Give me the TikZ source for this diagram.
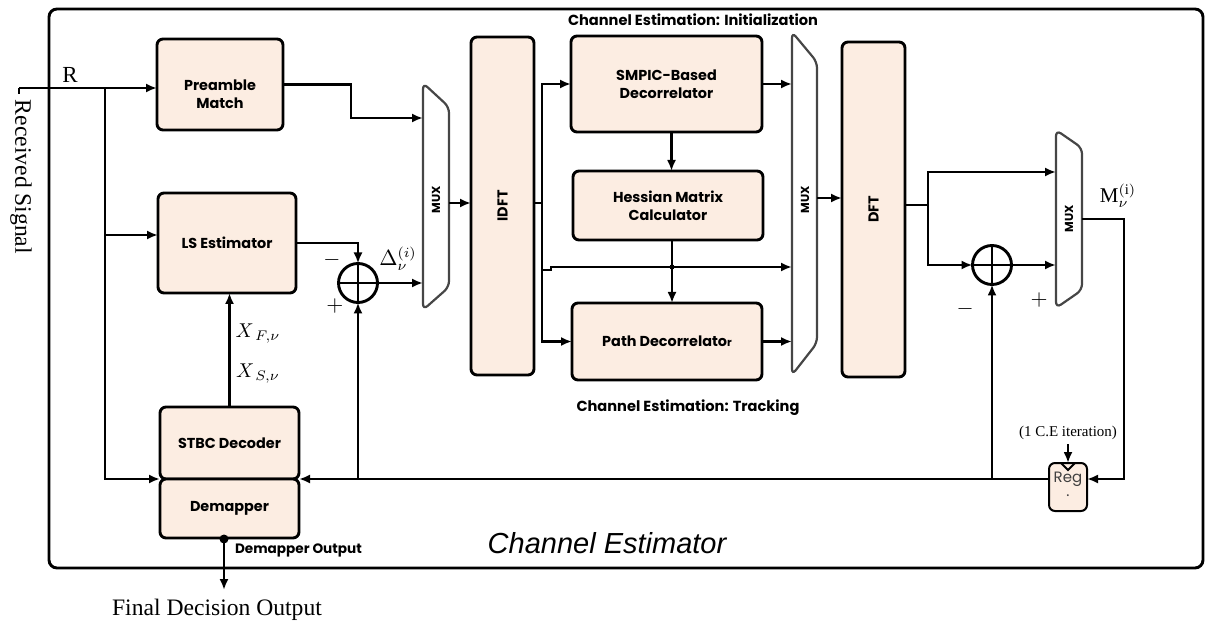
\documentclass[tikz,border=0pt]{standalone}
\usepackage{fontspec}
\setmainfont{Liberation Serif}
\setsansfont{Poppins}
\newfontfamily\arialfont{Liberation Sans}
\usetikzlibrary{arrows.meta,calc}
\definecolor{peach}{RGB}{252,237,226}
\definecolor{muxgray}{RGB}{70,70,70}

\begin{document}
\begin{tikzpicture}[x=0.5pt,y=-0.5pt,
  wire/.style={line width=1.45pt},
  arr/.style={wire,-{Latex[length=5.5pt,width=4.5pt]}},
  block/.style={draw,line width=1.45pt,fill=peach,rounded corners=3pt,
    inner sep=0pt,outer sep=0pt,align=center,
    font=\sffamily\bfseries\fontsize{7.2}{9}\selectfont},
  btext/.style={align=center,font=\sffamily\bfseries\fontsize{7.2}{9}\selectfont},
  mux/.style={draw=muxgray,line width=1.1pt,rounded corners=3pt},
  muxlabel/.style={font=\sffamily\bfseries\fontsize{5.8}{6}\selectfont,rotate=90},
  sum/.style={circle,draw,line width=1.45pt,minimum size=19.5pt,inner sep=0pt,outer sep=0pt,
    path picture={\draw[line width=1.45pt]
      (path picture bounding box.north) -- (path picture bounding box.south)
      (path picture bounding box.west) -- (path picture bounding box.east);}},
  serif/.style={font=\fontsize{11.8}{13}\selectfont},
  sign/.style={font=\fontsize{11}{12}\selectfont},
  caption/.style={font=\sffamily\bfseries\fontsize{7.3}{8}\selectfont},
  dot/.style={circle,fill,inner sep=0pt,minimum size=#1}
]
\useasboundingbox (0,0) rectangle (1208,630);

% outer frame of the estimator
\draw[line width=1.45pt,rounded corners=4pt] (49,9) rectangle (1203,568);

% processing blocks
\node[block,minimum width=63pt,minimum height=45.5pt] (pre) at (220,84.5) {};
\node[btext] (pretext) at (220,94) {Preamble\\Match};
\node[block,minimum width=69pt,minimum height=50pt] (ls) at (227,243) {LS Estimator};
\node[block,minimum width=69.5pt,minimum height=36pt] (stbc) at (229.5,443) {STBC Decoder};
\node[block,minimum width=69.5pt,minimum height=29.5pt] (dem) at (229.5,508.5) {Demapper};
\node[block,minimum width=31.5pt,minimum height=169pt] (idft) at (502.5,206) {\rotatebox{90}{IDFT}};
\node[block,minimum width=95.5pt,minimum height=48pt] (smpic) at (666.5,84) {SMPIC-Based\\Decorrelator};
\node[block,minimum width=95pt,minimum height=34.5pt] (hess) at (668,205.5) {Hessian Matrix\\Calculator};
\node[block,minimum width=95pt,minimum height=38.5pt] (path) at (667,341.5) {Path Decorrelato{\fontsize{5.5}{6}\selectfont r}};
\node[block,minimum width=31.5pt,minimum height=167.5pt] (dft) at (873.5,209.5) {\rotatebox{90}{DFT}};
\node[draw,line width=1pt,fill=peach,rounded corners=3pt,minimum width=19pt,minimum height=24pt,
  inner sep=0pt,outer sep=0pt] (reg) at (1068,487) {};
\node[font=\sffamily\fontsize{7.5}{8}\selectfont,text=black!75] (regt) at (1068,479) {Reg};
\node[font=\sffamily\fontsize{7.5}{8}\selectfont,text=black!75] (regd) at (1068,496) {.};
\draw[line width=0.9pt] (1061,463) -- (1068,470) -- (1075,463);

% multiplexers
\draw[mux] (423,83) -- (449,107) -- (449,287) -- (423,310) -- cycle;
\node[muxlabel] (mux1) at (436,200) {MUX};
\draw[mux] (792,32) -- (817,62) -- (817,343) -- (792,375) -- cycle;
\node[muxlabel] (mux2) at (805,200) {MUX};
\draw[mux] (1056,130) -- (1082,148) -- (1082,290) -- (1056,308) -- cycle;
\node[muxlabel] (mux3) at (1069,219) {MUX};

\coordinate (m1a) at (423,118);
\coordinate (m1b) at (423,283);
\coordinate (m1o) at (449,203);
\coordinate (m2a) at (792,86);
\coordinate (m2b) at (792,267);
\coordinate (m2c) at (792,342);
\coordinate (m2o) at (817,198);
\coordinate (m3a) at (1056,172);
\coordinate (m3b) at (1056,265);
\coordinate (m3o) at (1082,219);

% adders
\node[sum] (s1) at (358,283) {};
\node[sum] (s2) at (992,265) {};

% received signal input
\coordinate (rin) at (19,88);
\coordinate (br) at (105,88);
\draw[wire] (19,94) -- (rin);
\draw[arr] (rin) -- (rin -| pre.west);
\draw[arr] (br) |- (dem.north west);
\draw[arr] (br |- 0,235) -- (ls.west |- 0,235);
\node[font=\fontsize{11.5}{12}\selectfont] (rlab) at (70,75) {R};
\node[serif,rotate=-90] (rsig) at (21,177) {Received Signal};

% front end
\draw[arr] (pre.east) -- (351,84.5) |- (m1a);
\draw[arr] (ls.east) -| (s1.north);
\draw[arr] (s1.east) -- (m1b);
\node[sign] (s1m) at (332,260) {$-$};
\node[sign] (s1p) at (335,306) {$+$};
\node[font=\fontsize{10.5}{12}\selectfont] (dlab) at (398,259) {$\Delta_\nu^{(i)}$};
\draw[arr] (m1o) -- (m1o -| idft.west);
\draw[arr] (stbc.north) -- (stbc.north |- ls.south);
\node[font=\fontsize{10}{12}\selectfont] (xf) at (258,334) {$X_{\,F,\nu}$};
\node[font=\fontsize{10}{12}\selectfont] (xs) at (258,374) {$X_{\,S,\nu}$};

% estimation core
\coordinate (isp) at (542,203);
\draw[wire] (idft.east |- isp) -- (isp);
\draw[arr] (isp) |- (smpic.west);
\draw[arr] (isp) |- (path.west);
\draw[arr] (isp |- 0,270) -- (551,270) -- (551,267) -- (m2b);
\draw[arr] (smpic.east) -- (smpic.east -| m2a);
\draw[arr] ($(smpic.south)+(5,0)$) -- ($(smpic.south |- hess.north)+(5,0)$);
\draw[arr] ($(hess.south)+(4,0)$) -- ($(hess.south |- path.north)+(4,0)$);
\node[dot=2.5pt] (cross) at ($(hess.south |- 0,267)+(4,0)$) {};
\draw[arr] (path.east) -- (path.east -| m2c);
\draw[arr] (m2o) -- (m2o -| dft.west);
\node[caption] (cinit) at (693,20) {Channel Estimation: Initialization};
\node[caption] (ctrack) at (688,408) {Channel Estimation: Tracking};

% back end
\coordinate (dsp) at (928,205);
\draw[wire] (dft.east |- dsp) -- (dsp);
\draw[arr] (dsp) |- (m3a);
\draw[arr] (dsp) |- (s2.west);
\draw[arr] (s2.east) -- (m3b);
\node[sign] (s2m) at (965,309) {$-$};
\node[sign] (s2p) at (1039,300) {$+$};
\node[font=\fontsize{10.5}{12}\selectfont] (mlab) at (1118,196) {$\mathrm{M}_\nu^{(\mathrm{i})}$};
\draw[arr] (m3o) -| (1124,479) -- (reg.east |- 0,479);
\node[font=\fontsize{7.5}{9}\selectfont] (iter) at (1068,433) {(1 C.E iteration)};
\draw[arr] (1068,444) -- (reg.north);

% feedback to the adders and the demapper
\coordinate (fb1) at (358,479);
\coordinate (fb2) at (992,479);
\draw[arr] (reg.west |- 0,479) -- (dem.north east);
\draw[arr] (fb1) -- (s1.south);
\draw[arr] (fb2) -- (s2.south);

% demapper output
\coordinate (dout) at (224,539);
\node[dot=4.5pt] (dd) at (dout) {};
\draw[arr] (dout) -- (224,590);
\node[anchor=west,font=\sffamily\bfseries\fontsize{6.8}{7}\selectfont] (dlabel) at (228,550) {Demapper Output};
\node[serif] (final) at (217,610) {Final Decision Output};

\node[font=\arialfont\itshape\fontsize{14.5}{16}\selectfont] (title) at (607,543) {Channel Estimator};
\end{tikzpicture}
\end{document}
